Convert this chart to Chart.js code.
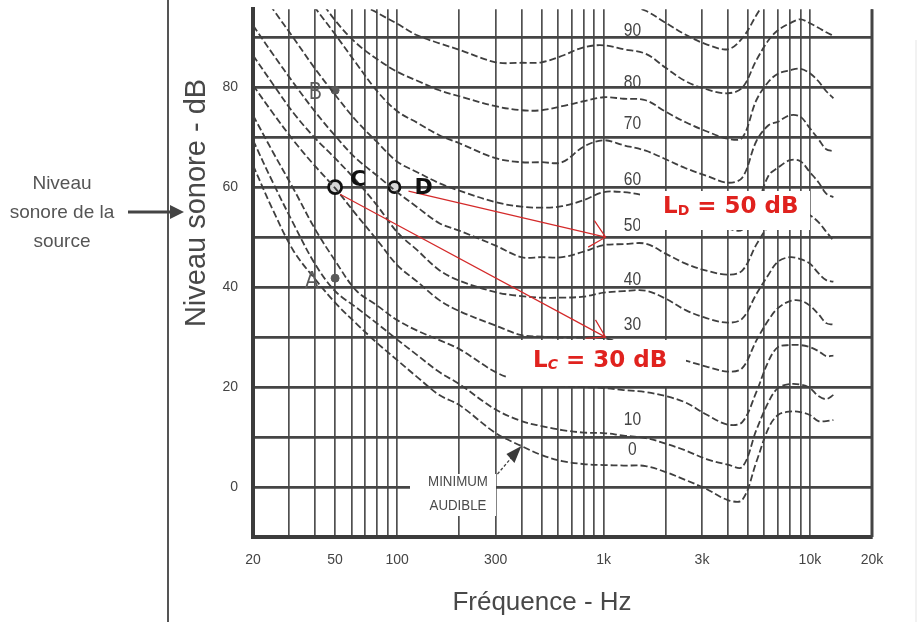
<!DOCTYPE html>
<html>
<head>
<meta charset="utf-8">
<script src="https://cdn.jsdelivr.net/npm/chart.js@4.4.0/dist/chart.umd.min.js"></script>
<style>
  html, body { margin: 0; padding: 0; background: #fff; }
  canvas { display: block; }
</style>
</head>
<body>
<canvas id="chart" width="919" height="622"></canvas>
<script>
/* ---------- data ---------- */
// frequencies shared by every equal-loudness contour (Hz)
const freqHz = [20, 25, 31.5, 40, 50, 63, 80, 100, 125, 160, 200, 300, 400, 500, 630, 800, 1000,
  1250, 1600, 2000, 2500, 3150, 4000, 4700, 5500, 6300, 7000, 8000, 9000, 10000, 11000, 12000, 13000];

// sound level (dB) of each contour at those frequencies
const phon0 = [64.4, 55.4, 47.2, 41.6, 36.9, 32.8, 28.8, 25.4, 22, 18.4, 16.4, 10.8, 8.2, 6.4, 5.2, 4.6, 4.4,
  4.3, 4.2, 3, 1.4, -0.4, -2.6, -2.6, 5, 11.8, 14.4, 15.1, 15, 14.4, 13.2, 13.2, 13.4];
const phon10 = [69.4, 60.9, 52.6, 44.6, 39.2, 36, 32.7, 29.5, 26.4, 23, 20.6, 15.5, 13.2, 12.2, 11.4, 10.9, 10.8,
  10.3, 9.8, 8.7, 7.3, 5.6, 4.5, 4, 11.4, 17, 19.8, 20.6, 20.5, 19.8, 18.2, 17.6, 18.4];
const phon20 = [74.4, 67, 59.6, 51.6, 45.3, 39.4, 36.3, 33.4, 31.3, 29.4, 27.6, 23, 21.1, 20.6, 20.3, 20, 19.8,
  19.4, 19, 18.2, 16.9, 14.5, 12.5, 13, 19, 25.2, 28, 28.4, 28.4, 28, 27.2, 26.2, 26.3];
const phon30 = [80.4, 74.8, 69.3, 64.2, 59.8, 54.6, 49.4, 44.4, 41.1, 37.4, 35.2, 32.3, 30.4, 30.1, 29.9, 29.9, 29.8,
  28.7, 27.5, 26.4, 25.3, 24.1, 23.1, 23.8, 29.3, 33.4, 35.8, 37.2, 37.3, 36.3, 34.6, 32.8, 32.5];
const phon40 = [86.4, 80.6, 74.8, 69.8, 65.8, 61.4, 56.3, 51, 47.4, 43.4, 41.3, 39, 38.2, 37.9, 37.9, 38.1, 38.9,
  39.2, 39.3, 37.7, 35.4, 33.8, 32.9, 33.7, 38.6, 42.5, 45.1, 46, 45.6, 44.7, 42.8, 41.4, 41.1];
const phon50 = [92.4, 86.6, 80.8, 75.1, 70.3, 65.8, 62.3, 59, 56, 52.8, 51.3, 48.3, 46, 46, 46, 47.1, 48.4,
  48.6, 48.7, 46.7, 44.7, 43.3, 42.5, 43.3, 48.5, 52.3, 54.5, 55.5, 55.2, 54.4, 53, 51.1, 49.3];
const phon60 = [101.4, 95.6, 89.8, 83.7, 78.5, 73.4, 69, 65.1, 63, 60.8, 59.3, 57, 56.1, 55.9, 56.2, 57.4, 59,
  59, 58.3, 57.1, 55.9, 54.1, 51.8, 51.5, 56.1, 62.3, 63.9, 65.4, 65.2, 63, 61, 58.7, 58];
const phon70 = [112, 107.6, 101.9, 95.9, 90.6, 84.9, 79.2, 75.2, 72.9, 70.4, 68.8, 65.8, 65, 65, 65, 68.1, 69.4,
  68.4, 67.3, 65.6, 63.8, 62.3, 60.9, 61.9, 69.2, 72.4, 73.1, 74.4, 74.1, 71.8, 69.6, 67.6, 67.2];
const phon80 = [118, 112.8, 106.2, 99.1, 93.4, 88.9, 85.6, 83.1, 81.3, 79.4, 78.2, 76.2, 75.4, 75.4, 76.2, 77.2, 78,
  77.7, 77.4, 75.1, 73, 71.2, 69.7, 69.9, 77.4, 81.1, 82.7, 83.4, 83.7, 82.8, 81.2, 79.2, 77.8];
const phon90 = [125, 120, 114, 107.6, 102.9, 97.4, 94.9, 92.7, 90.4, 88.8, 87.5, 85, 84.9, 85, 86.3, 88, 88.4,
  87.6, 86.7, 83.9, 81.2, 79.6, 78.8, 79.9, 85.4, 89.4, 91.4, 92.8, 93.6, 92.8, 91.9, 91, 90.3];
const phon100 = [null, null, null, null, null, null, null, null, null, null, null, null, null, null, null, 98.4, 98,
  96.8, 95.3, 92.9, 90.5, 88.6, 87.6, 89.8, 94.4, 98.4, null, null, null, null, null, null, null];
const contours = [phon0, phon10, phon20, phon30, phon40, phon50, phon60, phon70, phon80, phon90, phon100];

// printed contour labels next to 1 kHz
const phonLabelHz = 1380;
const phonLabelText = ['90', '80', '70', '60', '50', '40', '30', '10', '0'];
const phonLabelDb = [91.4, 80.8, 72.6, 61.4, 52.2, 41.4, 32.4, 13.4, 7.4];

// marked sources
const sourceName = ['A', 'B', 'C', 'D'];
const sourceHz = [50, 50, 50, 97];
const sourceDb = [41.8, 79.4, 60, 60];

// axes
const gridHz = [20, 30, 40, 50, 60, 70, 80, 90, 100, 200, 300, 400, 500, 600, 700, 800, 900, 1000,
  2000, 3000, 4000, 5000, 6000, 7000, 8000, 9000, 10000, 20000];
const freqTickHz = [20, 50, 100, 300, 1000, 3000, 10000, 20000];
const freqTickText = ['20', '50', '100', '300', '1k', '3k', '10k', '20k'];
const levelGrid = [-10, 0, 10, 20, 30, 40, 50, 60, 70, 80, 90];
const levelTickDb = [0, 20, 40, 60, 80];

/* ---------- drawing helpers ---------- */
const ink = '#444';
const red = '#e0221e';
const sans = '"Liberation Sans", Arial, sans-serif';

function openArrow(ctx, x0, y0, x1, y1, len, spread) {
  const a = Math.atan2(y1 - y0, x1 - x0);
  ctx.beginPath();
  ctx.moveTo(x0, y0);
  ctx.lineTo(x1, y1);
  ctx.moveTo(x1 - len * Math.cos(a - spread), y1 - len * Math.sin(a - spread));
  ctx.lineTo(x1, y1);
  ctx.lineTo(x1 - len * Math.cos(a + spread), y1 - len * Math.sin(a + spread));
  ctx.stroke();
}

function narrowText(ctx, text, x, y, sx) {
  ctx.save();
  ctx.translate(x, y);
  ctx.scale(sx, 1);
  ctx.fillText(text, 0, 0);
  ctx.restore();
}

// "L" + subscript + rest, in red
function redLabel(ctx, sub, rest, x, base, italicSub) {
  ctx.fillStyle = red;
  ctx.textAlign = 'left';
  ctx.textBaseline = 'alphabetic';
  ctx.font = 'bold 23px "DejaVu Sans", sans-serif';
  ctx.fillText('L', x, base);
  let cx = x + ctx.measureText('L').width;
  ctx.font = (italicSub ? 'italic ' : '') + 'bold 14px "DejaVu Sans", sans-serif';
  ctx.fillText(sub, cx, base + 2);
  cx += ctx.measureText(sub).width;
  ctx.font = 'bold 23px "DejaVu Sans", sans-serif';
  ctx.fillText(rest, cx, base);
}

const paperNotes = {
  id: 'paperNotes',
  afterDatasetsDraw(chart) {
    const { ctx, chartArea: area, scales: { x, y } } = chart;
    const px = (hz) => x.getPixelForValue(hz);
    const py = (db) => y.getPixelForValue(db);
    ctx.save();

    // right edge of the grid
    ctx.strokeStyle = ink;
    ctx.lineWidth = 3;
    ctx.beginPath();
    ctx.moveTo(area.right, area.top);
    ctx.lineTo(area.right, area.bottom);
    ctx.stroke();

    // "MINIMUM AUDIBLE" note with its arrow
    ctx.fillStyle = '#fff';
    ctx.fillRect(410, 474, 86, 42);
    ctx.fillStyle = '#4a4a4a';
    ctx.font = '14px ' + sans;
    ctx.textAlign = 'center';
    ctx.textBaseline = 'middle';
    narrowText(ctx, 'MINIMUM', 458, 482, 0.95);
    narrowText(ctx, 'AUDIBLE', 458, 506, 0.95);
    const tipX = px(400), tipY = py(8.2);
    ctx.strokeStyle = '#444';
    ctx.lineWidth = 1.3;
    ctx.setLineDash([3, 2]);
    ctx.beginPath();
    ctx.moveTo(tipX - 24, tipY + 28);
    ctx.lineTo(tipX - 6, tipY + 7);
    ctx.stroke();
    ctx.setLineDash([]);
    ctx.fillStyle = '#3a3a3a';
    ctx.beginPath();
    ctx.moveTo(tipX, tipY);
    ctx.lineTo(tipX - 15, tipY + 8);
    ctx.lineTo(tipX - 7, tipY + 17);
    ctx.closePath();
    ctx.fill();

    // contour labels
    ctx.fillStyle = '#444';
    ctx.font = '19px ' + sans;
    phonLabelText.forEach((t, i) => narrowText(ctx, t, px(phonLabelHz), py(phonLabelDb[i]), 0.82));

    // white label boxes
    ctx.fillStyle = '#fff';
    ctx.fillRect(640, 191, 170, 39);
    ctx.fillRect(508, 340, 178, 46);
    redLabel(ctx, 'D', ' = 50 dB', 663, 213, false);
    redLabel(ctx, 'C', ' = 30 dB', 533, 367, true);

    // red arrows from C and D to the 1 kHz level
    const cx = px(sourceHz[2]), cy = py(sourceDb[2]);
    const dx = px(sourceHz[3]), dy = py(sourceDb[3]);
    ctx.strokeStyle = '#d42a2a';
    ctx.lineWidth = 1.2;
    openArrow(ctx, cx + 5, cy + 7, px(1000) + 2, py(30), 20, 0.55);
    openArrow(ctx, dx + 14, dy + 4, px(1000) + 2, py(50), 20, 0.75);

    // source letters
    ctx.textAlign = 'left';
    ctx.textBaseline = 'alphabetic';
    ctx.fillStyle = '#5a5a5a';
    ctx.font = '24px ' + sans;
    narrowText(ctx, 'A', px(sourceHz[0]) - 30, py(sourceDb[0]) + 10, 0.85);
    narrowText(ctx, 'B', px(sourceHz[1]) - 26, py(sourceDb[1]) + 9, 0.8);
    ctx.fillStyle = '#111';
    ctx.font = 'bold 22px "DejaVu Sans", sans-serif';
    ctx.fillText('C', cx + 15, cy - 1);
    ctx.fillText('D', dx + 20, dy + 7);

    ctx.restore();
  },
  afterDraw(chart) {
    const { ctx } = chart;
    ctx.save();
    // page frame line and source note on the left
    ctx.strokeStyle = '#555';
    ctx.lineWidth = 2;
    ctx.beginPath();
    ctx.moveTo(168, 0);
    ctx.lineTo(168, 622);
    ctx.stroke();
    ctx.strokeStyle = '#eee';
    ctx.lineWidth = 1.5;
    ctx.beginPath();
    ctx.moveTo(916, 40);
    ctx.lineTo(916, 622);
    ctx.stroke();

    ctx.fillStyle = '#555';
    ctx.font = '19px ' + sans;
    ctx.textAlign = 'center';
    ctx.textBaseline = 'middle';
    ctx.fillText('Niveau', 62, 184);
    ctx.fillText('sonore de la', 62, 213);
    ctx.fillText('source', 62, 242);
    ctx.strokeStyle = '#444';
    ctx.lineWidth = 3;
    ctx.beginPath();
    ctx.moveTo(128, 212);
    ctx.lineTo(172, 212);
    ctx.stroke();
    ctx.fillStyle = '#444';
    ctx.beginPath();
    ctx.moveTo(184, 212);
    ctx.lineTo(170, 205);
    ctx.lineTo(170, 219);
    ctx.closePath();
    ctx.fill();

    // axis titles
    ctx.fillStyle = '#484848';
    ctx.font = '29px ' + sans;
    ctx.save();
    ctx.translate(197, 203);
    ctx.rotate(-Math.PI / 2);
    ctx.fillText('Niveau sonore - dB', 0, 0);
    ctx.restore();
    ctx.font = '26px ' + sans;
    ctx.fillText('Fréquence - Hz', 542, 603);
    ctx.restore();
  }
};

/* ---------- chart ---------- */
const datasets = contours.map((levels) => ({
  data: freqHz.map((f, i) => ({ x: f, y: levels[i] })),
  borderColor: '#3f3f3f',
  borderWidth: 1.8,
  borderDash: [7, 3],
  pointRadius: 0,
  tension: 0.35,
  fill: false
}));
datasets.push({
  data: [0, 1].map((i) => ({ x: sourceHz[i], y: sourceDb[i] })),
  showLine: false,
  pointRadius: 4,
  pointBackgroundColor: '#5a5a5a',
  pointBorderColor: '#5a5a5a'
});
datasets.push({
  data: [2, 3].map((i) => ({ x: sourceHz[i], y: sourceDb[i] })),
  showLine: false,
  pointRadius: [6.5, 5.5],
  pointBorderWidth: 2.8,
  pointBackgroundColor: '#d8d8d8',
  pointBorderColor: '#111'
});

new Chart(document.getElementById('chart'), {
  type: 'line',
  data: { datasets },
  options: {
    responsive: false,
    animation: false,
    layout: { padding: { left: 180, right: 47, top: 9, bottom: 0 } },
    plugins: { legend: { display: false }, tooltip: { enabled: false } },
    scales: {
      x: {
        type: 'logarithmic',
        min: 20,
        max: 20000,
        afterBuildTicks: (s) => { s.ticks = gridHz.map((v) => ({ value: v })); },
        afterFit: (s) => { s.height = 85; s.paddingLeft = 0; s.paddingRight = 0; },
        ticks: {
          autoSkip: false,
          maxRotation: 0,
          padding: 15,
          color: '#444',
          font: { family: sans, size: 14 },
          callback: (v) => {
            const i = freqTickHz.indexOf(v);
            return i >= 0 ? freqTickText[i] : '';
          }
        },
        grid: { color: '#505050', lineWidth: 1.7, drawTicks: false },
        border: { display: true, color: '#3c3c3c', width: 4 }
      },
      y: {
        min: -10,
        max: 95.6,
        afterBuildTicks: (s) => { s.ticks = levelGrid.map((v) => ({ value: v })); },
        afterFit: (s) => { s.width = 73; s.paddingTop = 0; s.paddingBottom = 0; },
        ticks: {
          padding: 15,
          color: '#444',
          font: { family: sans, size: 14 },
          callback: (v) => (levelTickDb.includes(v) ? String(v) : '')
        },
        grid: { color: '#454545', lineWidth: 2.8, drawTicks: false },
        border: { display: true, color: '#3c3c3c', width: 4 }
      }
    }
  },
  plugins: [paperNotes]
});
</script>
</body>
</html>
